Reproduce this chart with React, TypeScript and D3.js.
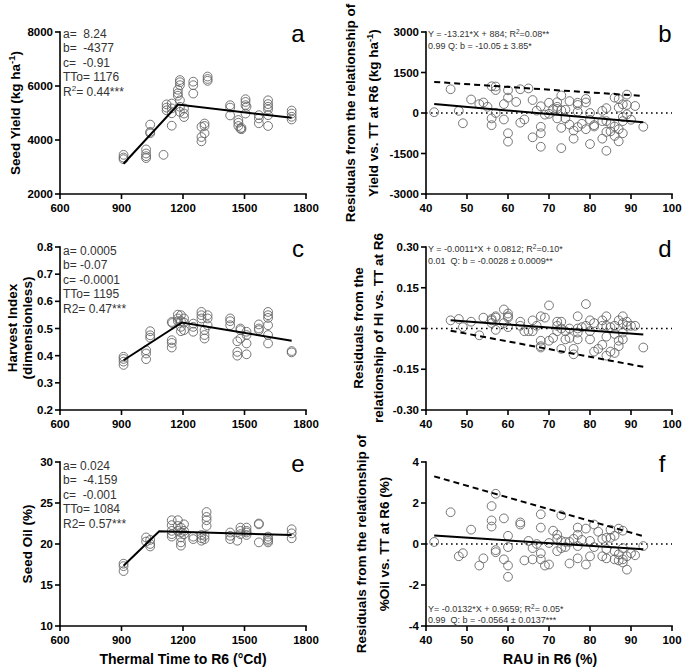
import React from 'react';
import * as d3 from 'd3';

const FONT = "'Liberation Sans', Arial, Helvetica, sans-serif";
type Pt = [number, number];

// ---------- tick values ----------
const ttTicks = [600, 900, 1200, 1500, 1800];
const rauTicks = [40, 50, 60, 70, 80, 90, 100];
const yieldTicks = [2000, 4000, 6000, 8000];
const hiTicks = [0.2, 0.3, 0.4, 0.5, 0.6, 0.7, 0.8];
const oilTicks = [10, 15, 20, 25, 30];
const resYieldTicks = [-3000, -1500, 0, 1500, 3000];
const resHITicks = [-0.3, -0.15, 0, 0.15, 0.3];
const resOilTicks = [-4, -2, 0, 2, 4];

// ---------- data: panel a (seed yield vs thermal time) ----------
const yieldTT: Pt[] = [
  [910, 3450], [910, 3350], [910, 3290],
  [1020, 3650], [1020, 3500], [1020, 3400], [1020, 3330],
  [1040, 4570], [1040, 4300], [1040, 4250],
  [1105, 3450],
  [1120, 5320], [1120, 5200], [1120, 5100],
  [1145, 5350], [1145, 5170], [1145, 4990], [1145, 4530],
  [1175, 5860], [1175, 5730], [1175, 5640],
  [1185, 6220], [1185, 6140], [1185, 6030], [1185, 5470], [1185, 5230], [1185, 5040],
  [1205, 5170], [1205, 4980], [1205, 4850],
  [1250, 6160], [1250, 6030], [1250, 5720],
  [1290, 4490], [1290, 4110], [1290, 3950],
  [1305, 4610], [1305, 4520], [1305, 4250],
  [1320, 6350], [1320, 6260], [1320, 6190],
  [1430, 5290], [1430, 5200], [1430, 4910],
  [1470, 4740], [1470, 4640], [1470, 4520],
  [1485, 4450], [1485, 4400], [1480, 4420],
  [1505, 5510], [1505, 5410], [1505, 5290], [1505, 4980],
  [1510, 5230],
  [1570, 4920], [1570, 4800], [1570, 4620],
  [1615, 5470], [1615, 5330], [1615, 5230], [1615, 5130], [1615, 4920], [1615, 4520],
  [1730, 5090], [1730, 4980], [1730, 4860], [1730, 4760],
];
const fitYield: Pt[] = [[910, 3120], [1176, 5310], [1730, 4820]];

// ---------- panel c (harvest index vs thermal time) ----------
const hiTT: Pt[] = [
  [910, 0.396], [910, 0.388], [910, 0.378], [910, 0.366],
  [1020, 0.42], [1020, 0.408], [1020, 0.387],
  [1040, 0.49], [1040, 0.475], [1040, 0.466],
  [1145, 0.524], [1148, 0.52], [1145, 0.457], [1145, 0.447], [1145, 0.43],
  [1175, 0.551], [1175, 0.537], [1175, 0.527],
  [1190, 0.549], [1190, 0.527], [1190, 0.506], [1190, 0.49],
  [1205, 0.537], [1205, 0.522], [1205, 0.494],
  [1250, 0.518], [1250, 0.506], [1250, 0.488],
  [1290, 0.561], [1290, 0.549], [1290, 0.537],
  [1305, 0.494], [1305, 0.476], [1305, 0.463],
  [1320, 0.549], [1320, 0.537], [1320, 0.512],
  [1430, 0.537], [1430, 0.527], [1430, 0.512],
  [1465, 0.453], [1465, 0.414], [1465, 0.4],
  [1480, 0.5], [1480, 0.494], [1480, 0.463],
  [1510, 0.488], [1510, 0.476], [1510, 0.445], [1510, 0.405],
  [1570, 0.515], [1570, 0.5], [1570, 0.494],
  [1615, 0.561], [1615, 0.549], [1615, 0.539], [1615, 0.512], [1615, 0.476], [1615, 0.445],
  [1730, 0.417], [1730, 0.412],
];
const fitHI: Pt[] = [[910, 0.383], [1195, 0.522], [1730, 0.455]];

// ---------- panel e (seed oil vs thermal time) ----------
const oilTT: Pt[] = [
  [910, 17.6], [910, 17.3], [910, 16.7],
  [1020, 20.8], [1020, 20.3],
  [1040, 20.5], [1040, 20.0], [1040, 19.7],
  [1145, 22.9], [1145, 22.3], [1145, 21.6], [1145, 21.2], [1145, 20.9],
  [1175, 22.9], [1175, 22.2], [1175, 21.6],
  [1190, 22.0], [1190, 21.4], [1190, 20.8], [1190, 20.2], [1190, 19.8],
  [1205, 22.4], [1205, 21.6], [1205, 21.2],
  [1250, 20.9], [1250, 20.6],
  [1290, 21.1], [1290, 20.7], [1290, 20.4],
  [1305, 21.0], [1305, 20.6],
  [1315, 23.9], [1315, 23.3], [1315, 22.9], [1315, 22.2],
  [1430, 21.4], [1430, 21.0], [1430, 20.6],
  [1465, 20.4],
  [1480, 22.0], [1480, 21.6], [1480, 21.2],
  [1510, 22.0], [1510, 21.6], [1510, 21.4], [1510, 21.1],
  [1570, 22.5], [1570, 22.4], [1570, 20.2],
  [1615, 20.9], [1615, 20.6], [1615, 20.4], [1615, 20.2],
  [1730, 21.8], [1730, 21.3], [1730, 20.7],
];
const fitOil: Pt[] = [[910, 17.35], [1084, 21.55], [1730, 21.1]];

// ---------- panel b (yield residuals vs RAU) ----------
const resYield: Pt[] = [
  [42, 30], [46, 880], [48, 80], [49, -380], [51, 500], [53, 330], [54, 390], [55, 230],
  [56, 990], [56, -200], [56, -450], [57, 980], [57, 850], [57, 0], [59, 330], [59, -240],
  [60, 840], [60, 570], [60, -750], [60, -1060], [62, 410], [63, 880], [63, -360], [64, -240],
  [65, 910], [66, 480], [66, -900], [67, 90], [68, 250], [68, -510], [68, -750], [68, -1250],
  [69, -60], [70, 380], [70, -30], [71, 150], [72, 400], [72, 230], [72, -200], [72, 150],
  [73, 650], [73, 100], [73, -550], [73, -1300], [74, 120], [74, -200], [75, 440], [75, -430],
  [76, -650], [76, -950], [77, 380], [77, 300], [77, 50], [77, -520], [78, -400], [79, 520],
  [79, 390], [79, -600], [80, 0], [80, -250], [80, -1150], [81, -450], [81, -500], [83, 80],
  [83, -300], [83, -950], [84, 180], [84, -300], [84, -700], [84, -1400], [85, -400], [85, -680],
  [86, 570], [86, -500], [86, -850], [87, 520], [87, 200], [87, -600], [87, -1050], [88, 320],
  [88, -150], [88, -300], [88, -750], [89, 680], [89, 300], [89, -50], [90, -250], [91, 260],
  [93, -510],
];
const fitResYield: Pt[] = [[42, 330], [93, -345]];
const quantResYield: Pt[] = [[42, 1150], [93, 630]];

// ---------- panel d (HI residuals vs RAU) ----------
const resHI: Pt[] = [
  [46, 0.03], [48, 0.035], [49, 0.005], [51, 0.025], [53, -0.025], [54, 0.04], [56, 0.03],
  [56, 0.035], [56, 0.02], [57, 0.04], [57, -0.005], [57, 0.045], [59, 0.07], [59, 0.02],
  [60, 0.055], [60, 0.045], [60, 0.04], [60, 0.005], [63, 0.025], [63, 0.01], [64, -0.01],
  [65, -0.01], [66, 0.03], [66, -0.01], [67, 0.01], [68, 0.045], [68, -0.045], [68, -0.07],
  [68, -0.065], [69, 0.04], [70, 0.085], [70, -0.045], [71, -0.035], [72, 0.025], [72, -0.01],
  [72, 0.01], [73, 0.025], [73, -0.075], [73, 0.0], [74, -0.04], [74, -0.01], [75, 0.0],
  [75, -0.035], [76, -0.075], [76, -0.095], [77, 0.045], [77, -0.015], [77, -0.04], [77, 0.0],
  [78, 0.005], [79, 0.09], [79, 0.01], [80, 0.03], [80, -0.01], [80, -0.04], [81, 0.02],
  [81, -0.085], [82, -0.075], [83, 0.03], [83, -0.06], [83, 0.01], [84, 0.045], [84, -0.03],
  [84, -0.1], [84, 0.01], [85, -0.085], [85, 0.005], [86, -0.02], [86, -0.09], [86, 0.01],
  [87, -0.065], [87, 0.03], [87, -0.045], [88, 0.045], [88, 0.02], [88, -0.015], [88, -0.04],
  [89, 0.025], [89, 0.01], [90, 0.01], [91, 0.01], [93, -0.07],
];
const fitResHI: Pt[] = [[46, 0.03], [93, -0.022]];
const quantResHI: Pt[] = [[46, -0.008], [93, -0.141]];

// ---------- panel f (oil residuals vs RAU) ----------
const resOil: Pt[] = [
  [42, 0.1], [46, 1.55], [48, -0.6], [49, -0.45], [51, 0.7], [53, -1.05], [54, -0.7],
  [56, 1.85], [56, 1.15], [56, 0.85], [57, 2.45], [57, -0.3], [57, -0.4], [59, 1.25],
  [59, -0.75], [60, 0.4], [60, -0.15], [60, -1.05], [60, -1.6], [63, 1.05], [63, 0.95],
  [64, -0.8], [65, 0.15], [66, -0.75], [66, -0.2], [67, 0.0], [68, 1.45], [68, 0.8],
  [68, -0.45], [68, -0.75], [69, -1.05], [70, -1.0], [70, 0.05], [71, 0.65], [72, 0.45],
  [72, -0.35], [72, 0.25], [73, 1.4], [73, 0.15], [73, -0.2], [74, 0.1], [74, -0.15],
  [75, -0.95], [75, 0.1], [76, 0.25], [77, 0.8], [77, 0.45], [77, -0.1], [77, -0.7],
  [78, 0.2], [79, 0.75], [79, -1.0], [80, 0.15], [80, -0.6], [81, 0.95], [81, -0.15],
  [82, 0.6], [83, 0.25], [83, -0.6], [84, 0.3], [84, -0.25], [84, -0.7], [85, 0.7],
  [85, 0.3], [86, 0.4], [86, -0.35], [86, -0.75], [87, 0.75], [87, -0.5], [87, -0.8],
  [88, 0.65], [88, -0.2], [88, -0.75], [88, -0.9], [89, -0.6], [89, -1.25], [90, -0.45],
  [91, -0.55], [93, -0.1],
];
const fitResOil: Pt[] = [[42, 0.41], [93, -0.26]];
const quantResOil: Pt[] = [[42, 3.3], [93, 0.38]];

// ---------- annotations ----------
const paramsA = ['a=  8.24', 'b=  -4377', 'c=  -0.91', 'TTo= 1176'];
const paramsC = ['a= 0.0005', 'b= -0.07', 'c= -0.0001', 'TTo= 1195', 'R2= 0.47***'];
const paramsE = ['a= 0.024', 'b=  -4.159', 'c=  -0.001', 'TTo= 1084', 'R2= 0.57***'];

interface PanelProps {
  x0: number; x1: number; y0: number; y1: number;
  xDomain: [number, number]; yDomain: [number, number];
  xTicks: number[]; yTicks: number[];
  yFmt: (v: number) => string;
  points: Pt[]; fit: Pt[]; quant?: Pt[]; zero?: boolean;
}

function Panel(p: PanelProps) {
  const xs = d3.scaleLinear().domain(p.xDomain).range([p.x0, p.x1]);
  const ys = d3.scaleLinear().domain(p.yDomain).range([p.y1, p.y0]);
  const line = d3.line<Pt>().x(d => xs(d[0])).y(d => ys(d[1]));
  const aw = 1.6;
  return (
    <g>
      {p.zero && (
        <line x1={p.x0} x2={p.x1} y1={ys(0)} y2={ys(0)} stroke="#000" strokeWidth={1.6}
          strokeDasharray="1.6,3.4" />
      )}
      {p.points.map((d, i) => (
        <circle key={i} cx={xs(d[0])} cy={ys(d[1])} r={4.4} fill="none" stroke="#666" strokeWidth={0.9} />
      ))}
      <path d={line(p.fit) || ''} fill="none" stroke="#000" strokeWidth={2} />
      {p.quant && (
        <path d={line(p.quant) || ''} fill="none" stroke="#000" strokeWidth={2} strokeDasharray="6,4" />
      )}
      <line x1={p.x0} x2={p.x0} y1={p.y0 - 0.8} y2={p.y1 + 0.8} stroke="#000" strokeWidth={aw} />
      <line x1={p.x0 - 0.8} x2={p.x1 + 0.8} y1={p.y1} y2={p.y1} stroke="#000" strokeWidth={aw} />
      {p.yTicks.map((t, i) => (
        <g key={'y' + i}>
          <line x1={p.x0 - 5} x2={p.x0} y1={ys(t)} y2={ys(t)} stroke="#000" strokeWidth={aw} />
          <text x={p.x0 - 7} y={ys(t)} dy="0.36em" textAnchor="end" fontSize={11.5} fontWeight="bold"
            fontFamily={FONT}>{p.yFmt(t)}</text>
        </g>
      ))}
      {p.xTicks.map((t, i) => (
        <g key={'x' + i}>
          <line x1={xs(t)} x2={xs(t)} y1={p.y1} y2={p.y1 + 5} stroke="#000" strokeWidth={aw} />
          <text x={xs(t)} y={p.y1 + 18} textAnchor="middle" fontSize={11.5} fontWeight="bold"
            fontFamily={FONT}>{t}</text>
        </g>
      ))}
    </g>
  );
}

const L = { x0: 60, x1: 306 };
const R = { x0: 426, x1: 672 };
const rows = [
  { y0: 32, y1: 194 },
  { y0: 247, y1: 410 },
  { y0: 462, y1: 626 },
];

function ParamText({ x, y, lines, r2 }: { x: number; y: number; lines: string[]; r2?: string }) {
  return (
    <g fontFamily={FONT} fontSize={12} fill="#333" style={{ whiteSpace: 'pre' }}>
      {lines.map((s, i) => (
        <text key={i} x={x} y={y + i * 14.4} xmlSpace="preserve">{s}</text>
      ))}
      {r2 && (
        <text x={x} y={y + lines.length * 14.4}>
          R<tspan fontSize={8} dy={-5}>2</tspan><tspan dy={5}>{r2}</tspan>
        </text>
      )}
    </g>
  );
}

export default function App() {
  const fmtInt = (v: number) => String(v);
  const fmt1 = (v: number) => v.toFixed(1);
  const fmt2 = (v: number) => v.toFixed(2);
  const letter = (x: number, y: number, s: string) => (
    <text x={x} y={y} textAnchor="middle" fontSize={24} fontFamily={FONT}>{s}</text>
  );
  const bold = { fontFamily: FONT, fontWeight: 'bold' as const, fontSize: 13.5 };
  const vlab = (x: number, y: number, content: React.ReactNode) => (
    <text transform={`translate(${x},${y}) rotate(-90)`} textAnchor="middle" dy="0.35em" {...bold}>{content}</text>
  );
  return (
    <svg width={685} height={670} style={{ position: 'absolute', left: 0, top: 0, background: '#fff' }}>
      <rect width={685} height={670} fill="#fff" />
      {/* a */}
      <Panel {...L} {...rows[0]} xDomain={[600, 1800]} yDomain={[2000, 8000]} xTicks={ttTicks}
        yTicks={yieldTicks} yFmt={fmtInt} points={yieldTT} fit={fitYield} />
      <ParamText x={63} y={38} lines={paramsA} r2="= 0.44***" />
      {letter(298, 42, 'a')}
      {vlab(15, 113, <>Seed Yield (kg ha<tspan fontSize={9.5} dy={-5}>-1</tspan><tspan dy={5}>)</tspan></>)}
      {/* b */}
      <Panel {...R} {...rows[0]} xDomain={[40, 100]} yDomain={[-3000, 3000]} xTicks={rauTicks}
        yTicks={resYieldTicks} yFmt={fmtInt} points={resYield} fit={fitResYield} quant={quantResYield} zero />
      <g fontFamily={FONT} fontSize={9} fill="#333">
        <text x={428} y={37}>Y = -13.21*X + 884; R<tspan fontSize={6.5} dy={-3}>2</tspan><tspan dy={3}>=0.08**</tspan></text>
        <text x={428} y={49}>0.99 Q: b = -10.05 ± 3.85*</text>
      </g>
      {letter(665, 42, 'b')}
      {vlab(350, 113, 'Residuals from the relationship of')}
      {vlab(373, 113, <>Yield vs. TT at R6 (kg ha<tspan fontSize={9.5} dy={-5}>-1</tspan><tspan dy={5}>)</tspan></>)}
      {/* c */}
      <Panel {...L} {...rows[1]} xDomain={[600, 1800]} yDomain={[0.2, 0.8]} xTicks={ttTicks}
        yTicks={hiTicks} yFmt={fmt1} points={hiTT} fit={fitHI} />
      <ParamText x={63} y={255} lines={paramsC} />
      {letter(298, 257, 'c')}
      {vlab(12, 328, 'Harvest Index')}
      {vlab(27, 328, '(dimensionless)')}
      {/* d */}
      <Panel {...R} {...rows[1]} xDomain={[40, 100]} yDomain={[-0.3, 0.3]} xTicks={rauTicks}
        yTicks={resHITicks} yFmt={fmt2} points={resHI} fit={fitResHI} quant={quantResHI} zero />
      <g fontFamily={FONT} fontSize={9} fill="#333">
        <text x={428} y={252}>Y = -0.0011*X + 0.0812; R<tspan fontSize={6.5} dy={-3}>2</tspan><tspan dy={3}>=0.10*</tspan></text>
        <text x={428} y={264} xmlSpace="preserve" style={{ whiteSpace: 'pre' }}>0.01  Q: b = -0.0028 ± 0.0009**</text>
      </g>
      {letter(665, 257, 'd')}
      {vlab(358, 328, 'Residuals from the')}
      {vlab(378, 328, 'relationship of HI vs. TT at R6')}
      {/* e */}
      <Panel {...L} {...rows[2]} xDomain={[600, 1800]} yDomain={[10, 30]} xTicks={ttTicks}
        yTicks={oilTicks} yFmt={fmtInt} points={oilTT} fit={fitOil} />
      <ParamText x={63} y={470} lines={paramsE} />
      {letter(298, 472, 'e')}
      {vlab(27, 544, 'Seed Oil (%)')}
      <text x={183} y={664} textAnchor="middle" {...bold} fontSize={14}>Thermal Time to R6 (°Cd)</text>
      {/* f */}
      <Panel {...R} {...rows[2]} xDomain={[40, 100]} yDomain={[-4, 4]} xTicks={rauTicks}
        yTicks={resOilTicks} yFmt={fmtInt} points={resOil} fit={fitResOil} quant={quantResOil} zero />
      <g fontFamily={FONT} fontSize={9} fill="#333">
        <text x={428} y={612}>Y= -0.0132*X + 0.9659; R<tspan fontSize={6.5} dy={-3}>2</tspan><tspan dy={3}>= 0.05*</tspan></text>
        <text x={428} y={623} xmlSpace="preserve" style={{ whiteSpace: 'pre' }}>0.99  Q: b = -0.0564 ± 0.0137***</text>
      </g>
      {letter(662, 472, 'f')}
      {vlab(361, 544, 'Residuals from the relationship of')}
      {vlab(384, 544, '%Oil vs. TT at R6 (%)')}
      <text x={550} y={664} textAnchor="middle" {...bold} fontSize={14}>RAU in R6 (%)</text>
    </svg>
  );
}
